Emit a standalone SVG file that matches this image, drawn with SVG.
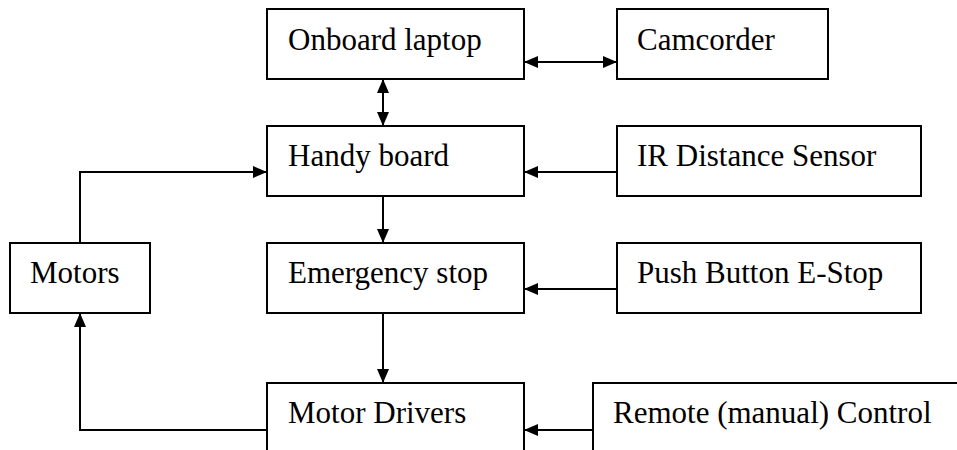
<svg xmlns="http://www.w3.org/2000/svg" width="957" height="450" viewBox="0 0 957 450">
<style>
.box{fill:#fff;stroke:#000;stroke-width:2}
.lbl{font-family:"Liberation Serif","Times New Roman",serif;font-size:31px;fill:#000}
.cn{fill:none;stroke:#000;stroke-width:2}
</style>
<defs>
<marker id="ah" viewBox="0 0 14 12" refX="14" refY="6" markerWidth="14" markerHeight="12" markerUnits="userSpaceOnUse" orient="auto-start-reverse">
<path d="M0,0 L14,6 L0,12 Z" fill="#000"/>
</marker>
</defs>
<rect width="957" height="450" fill="#fff"/>
<g id="connectors">
<line class="cn" x1="524" y1="62" x2="617" y2="62" marker-start="url(#ah)" marker-end="url(#ah)"/>
<line class="cn" x1="383" y1="79" x2="383" y2="126" marker-start="url(#ah)" marker-end="url(#ah)"/>
<line class="cn" x1="617" y1="172" x2="524" y2="172" marker-end="url(#ah)"/>
<polyline class="cn" points="80,243 80,172 267,172" marker-end="url(#ah)"/>
<line class="cn" x1="383" y1="196" x2="383" y2="243" marker-end="url(#ah)"/>
<line class="cn" x1="617" y1="289" x2="524" y2="289" marker-end="url(#ah)"/>
<line class="cn" x1="383" y1="313" x2="383" y2="383" marker-end="url(#ah)"/>
<polyline class="cn" points="267,430 80,430 80,313" marker-end="url(#ah)"/>
<line class="cn" x1="593" y1="430" x2="524" y2="430" marker-end="url(#ah)"/>
</g>
<g id="onboard-laptop">
<rect class="box" x="267" y="9" width="257" height="70"/>
<text class="lbl" x="288" y="50">Onboard laptop</text>
</g>
<g id="camcorder">
<rect class="box" x="617" y="9" width="211" height="70"/>
<text class="lbl" x="637" y="50">Camcorder</text>
</g>
<g id="handy-board">
<rect class="box" x="267" y="126" width="257" height="70"/>
<text class="lbl" x="288" y="166">Handy board</text>
</g>
<g id="ir-sensor">
<rect class="box" x="617" y="126" width="304" height="70"/>
<text class="lbl" x="637" y="166">IR Distance Sensor</text>
</g>
<g id="motors">
<rect class="box" x="10" y="243" width="140" height="70"/>
<text class="lbl" x="30" y="283">Motors</text>
</g>
<g id="emergency-stop">
<rect class="box" x="267" y="243" width="257" height="70"/>
<text class="lbl" x="288" y="283">Emergency stop</text>
</g>
<g id="push-button">
<rect class="box" x="617" y="243" width="304" height="70"/>
<text class="lbl" x="637" y="283">Push Button E-Stop</text>
</g>
<g id="motor-drivers">
<rect class="box" x="267" y="383" width="257" height="80"/>
<text class="lbl" x="288" y="423">Motor Drivers</text>
</g>
<g id="remote-control">
<rect class="box" x="593" y="383" width="380" height="80"/>
<text class="lbl" x="613" y="423">Remote (manual) Control</text>
</g>
</svg>
